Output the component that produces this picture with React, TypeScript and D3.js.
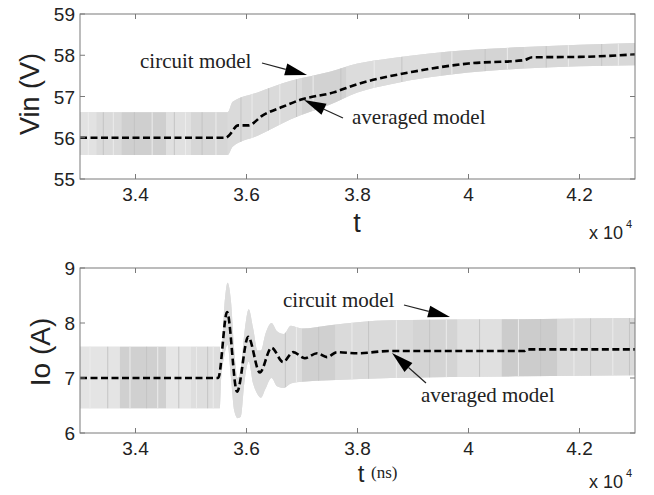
import * as d3 from "d3";

// time axis, in units of 1e4 ns
const tTicks = [3.4, 3.6, 3.8, 4.0, 4.2];
const vinTicks = [55, 56, 57, 58, 59];
const ioTicks = [6, 7, 8, 9];

// Vin: averaged model
const vinAvgT = [3.3, 3.563, 3.568, 3.585, 3.603, 3.63, 3.665, 3.697, 3.757, 3.8, 3.9, 4.0, 4.1, 4.115, 4.2, 4.3];
const vinAvg = [56.0, 56.0, 56.05, 56.3, 56.3, 56.55, 56.75, 56.92, 57.1, 57.3, 57.6, 57.8, 57.88, 57.95, 57.96, 58.02];

// Vin: circuit model ripple envelope
const vinBandT = [3.3, 3.566, 3.575, 3.62, 3.68, 3.75, 3.8, 3.86, 4.0, 4.1, 4.3];
const vinBandHi = [56.62, 56.62, 56.87, 57.1, 57.38, 57.6, 57.8, 57.93, 58.13, 58.2, 58.3];
const vinBandLo = [55.58, 55.58, 55.78, 56.05, 56.45, 56.8, 57.1, 57.3, 57.58, 57.68, 57.76];

// Io: averaged model
const ioAvgT = [3.3, 3.549, 3.565, 3.583, 3.603, 3.624, 3.645, 3.666, 3.684, 3.705, 3.727, 3.745, 3.763, 3.8, 3.857, 4.1, 4.105, 4.3];
const ioAvg = [7.0, 7.0, 8.2, 6.75, 7.75, 7.1, 7.55, 7.29, 7.47, 7.36, 7.45, 7.38, 7.47, 7.45, 7.49, 7.49, 7.52, 7.52];

// Io: circuit model ripple envelope
const ioBandT = [3.3, 3.552, 3.554, 3.56, 3.566, 3.572, 3.578, 3.584, 3.59, 3.596, 3.604, 3.612, 3.62, 3.626, 3.634, 3.645, 3.655, 3.667, 3.68, 3.7, 3.75, 3.86, 4.1, 4.3];
const ioBandHi = [7.57, 7.57, 7.3, 8.3, 8.73, 8.4, 7.5, 7.0, 7.2, 7.8, 8.25, 7.9, 7.5, 7.5, 7.8, 8.0, 7.85, 7.8, 7.95, 7.9, 7.96, 8.05, 8.07, 8.09];
const ioBandLo = [6.45, 6.45, 6.9, 7.4, 7.6, 7.0, 6.4, 6.27, 6.3, 6.9, 7.3, 6.9, 6.7, 6.64, 6.8, 7.0, 6.85, 6.82, 6.9, 6.93, 6.96, 7.0, 7.03, 7.05];

// shading blocks inside the ripple band [t0, t1, grey]
const vinShades: [number, number, string][] = [
  [3.3, 3.33, "#e2e2e2"], [3.33, 3.375, "#dadada"], [3.375, 3.455, "#cfcfcf"],
  [3.455, 3.5, "#e0e0e0"], [3.5, 3.566, "#d6d6d6"], [3.566, 3.7, "#dadada"],
  [3.7, 3.78, "#d2d2d2"], [3.78, 3.95, "#dcdcdc"], [3.95, 4.1, "#d4d4d4"], [4.1, 4.3, "#d8d8d8"],
];
const ioShades: [number, number, string][] = [
  [3.3, 3.372, "#e4e4e4"], [3.372, 3.455, "#d0d0d0"], [3.455, 3.5, "#e6e6e6"],
  [3.5, 3.552, "#dedede"], [3.552, 3.7, "#dcdcdc"], [3.7, 3.76, "#d0d0d0"],
  [3.76, 3.9, "#dadada"], [3.9, 3.98, "#d4d4d4"], [3.98, 4.06, "#e0e0e0"],
  [4.06, 4.16, "#cccccc"], [4.16, 4.3, "#dadada"],
];
const vinStreaks = [3.315, 3.342, 3.36, 3.398, 3.43, 3.47, 3.49, 3.52, 3.545, 3.59, 3.61, 3.64, 3.66, 3.69, 3.72, 3.77, 3.83, 3.88, 3.97, 4.03, 4.07, 4.14, 4.18, 4.24, 4.27];
const ioStreaks = [3.318, 3.35, 3.39, 3.42, 3.44, 3.478, 3.51, 3.53, 3.54, 3.67, 3.69, 3.73, 3.79, 3.82, 3.87, 3.93, 3.96, 4.02, 4.09, 4.13, 4.19, 4.22, 4.26, 4.29];

const font = "Liberation Sans, Arial, sans-serif";
const serif = "Liberation Serif, Times New Roman, serif";
const x = d3.scaleLinear([3.3, 4.3], [80, 635]);

const Arrow = ({ x1, y1, x2, y2 }: any) => {
  const a = Math.atan2(y2 - y1, x2 - x1);
  const L = 22, W = 6;
  const bx = x2 - L * Math.cos(a), by = y2 - L * Math.sin(a);
  const p = [
    [x2, y2],
    [bx + W * Math.sin(a), by - W * Math.cos(a)],
    [bx - W * Math.sin(a), by + W * Math.cos(a)],
  ];
  return (
    <g>
      <line x1={x1} y1={y1} x2={bx} y2={by} stroke="#222" strokeWidth={1.2} />
      <polygon points={p.map((d) => d.join(",")).join(" ")} fill="#000" />
    </g>
  );
};

const Panel = ({ id, top, bottom, domain, ticks, avgT, avg, bandT, hi, lo, shades, streaks }: any) => {
  const y = d3.scaleLinear(domain, [bottom, top]);
  const idx = d3.range(bandT.length);
  const area = d3.area<number>().x((i) => x(bandT[i])).y0((i) => y(lo[i])).y1((i) => y(hi[i])).curve(d3.curveMonotoneX);
  const line = d3.line<number>().x((i) => x(avgT[i])).y((i) => y(avg[i])).curve(d3.curveMonotoneX);
  const [x0, x1] = x.range();
  return (
    <g>
      <defs>
        <clipPath id={id}>
          <path d={area(idx) || ""} />
        </clipPath>
      </defs>
      <path d={area(idx) || ""} fill="#dcdcdc" />
      <g clipPath={`url(#${id})`}>
        {shades.map((s: any, i: number) => (
          <rect key={i} x={x(s[0])} width={x(s[1]) - x(s[0])} y={top} height={bottom - top} fill={s[2]} />
        ))}
        {streaks.map((t: number, i: number) => (
          <line key={i} x1={x(t)} x2={x(t)} y1={top} y2={bottom} stroke={i % 2 ? "#c4c4c4" : "#ececec"} strokeWidth={1} />
        ))}
      </g>
      <path d={line(d3.range(avgT.length)) || ""} fill="none" stroke="#000" strokeWidth={2.6} strokeDasharray="7,3.5" />
      <rect x={x0} y={top} width={x1 - x0} height={bottom - top} fill="none" stroke="#7a7a7a" strokeWidth={1} />
      {tTicks.map((t) => (
        <g key={t}>
          <line x1={x(t)} x2={x(t)} y1={bottom} y2={bottom - 5} stroke="#7a7a7a" />
          <line x1={x(t)} x2={x(t)} y1={top} y2={top + 5} stroke="#7a7a7a" />
          <text x={x(t)} y={bottom + 22} textAnchor="middle" fontSize={19} fontFamily={font} fill="#222">
            {d3.format("~g")(t)}
          </text>
        </g>
      ))}
      {ticks.map((v: number) => (
        <g key={v}>
          <line x1={x0} x2={x0 + 5} y1={y(v)} y2={y(v)} stroke="#7a7a7a" />
          <line x1={x1} x2={x1 - 5} y1={y(v)} y2={y(v)} stroke="#7a7a7a" />
          <text x={75} y={y(v) + 7} textAnchor="end" fontSize={19} fontFamily={font} fill="#222">
            {v}
          </text>
        </g>
      ))}
    </g>
  );
};

export default function App() {
  return (
    <svg width={654} height={495} style={{ position: "absolute", left: 0, top: 0, background: "#fff" }}>
      <Panel id="c1" top={14} bottom={179} domain={[55, 59]} ticks={vinTicks} avgT={vinAvgT} avg={vinAvg}
        bandT={vinBandT} hi={vinBandHi} lo={vinBandLo} shades={vinShades} streaks={vinStreaks} />
      <Panel id="c2" top={268} bottom={433} domain={[6, 9]} ticks={ioTicks} avgT={ioAvgT} avg={ioAvg}
        bandT={ioBandT} hi={ioBandHi} lo={ioBandLo} shades={ioShades} streaks={ioStreaks} />

      <text transform="translate(39,94) rotate(-90)" textAnchor="middle" fontSize={27} fontFamily={font} fill="#222">Vin (V)</text>
      <text transform="translate(50,352) rotate(-90)" textAnchor="middle" fontSize={28} fontFamily={font} fill="#222">Io (A)</text>

      <text x={357} y={232} textAnchor="middle" fontSize={27} fontFamily={font} fill="#222">t</text>
      <text x={361} y={482} textAnchor="middle" fontSize={24} fontFamily={font} fill="#222">t</text>
      <text x={371} y={478} fontSize={17} fontFamily={serif} fill="#222">(ns)</text>

      <text x={589} y={239} fontSize={18} fontFamily={font} fill="#222">x 10</text>
      <text x={626} y={228} fontSize={11} fontFamily={font} fill="#222">4</text>
      <text x={589} y={488} fontSize={18} fontFamily={font} fill="#222">x 10</text>
      <text x={626} y={477} fontSize={11} fontFamily={font} fill="#222">4</text>

      <text x={140} y={68} fontSize={21} fontFamily={serif} fill="#222">circuit model</text>
      <Arrow x1={262} y1={63} x2={307} y2={75} />
      <text x={352} y={124} fontSize={21} fontFamily={serif} fill="#222">averaged model</text>
      <Arrow x1={343} y1={118} x2={304} y2={100} />

      <text x={283} y={307} fontSize={21} fontFamily={serif} fill="#222">circuit model</text>
      <Arrow x1={404} y1={305} x2={450} y2={317} />
      <text x={421} y={402} fontSize={21} fontFamily={serif} fill="#222">averaged model</text>
      <Arrow x1={426} y1={383} x2={392} y2={353} />
    </svg>
  );
}
